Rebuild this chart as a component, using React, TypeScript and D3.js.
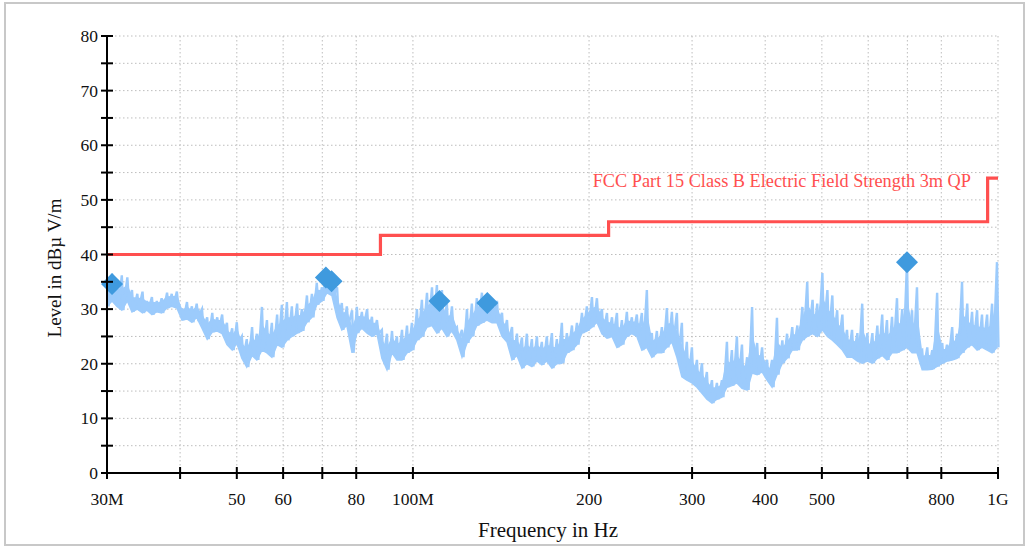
import React from "react";
import * as d3 from "d3";

// measured trace, MHz / dBµV/m (upper and lower edge of the noisy band)
const traceFreq = [
  30.0, 30.6, 31.2, 31.8, 32.5, 33.1, 33.8, 34.5, 35.1, 35.8, 36.5, 37.2, 38.0, 38.7, 39.5, 40.3, 41.1, 41.9, 42.7, 43.6,
  44.5, 45.4, 46.3, 47.2, 48.1, 49.1, 50.0, 51.0, 52.0, 53.1, 54.1, 55.2, 56.3, 57.4, 58.6, 59.7, 60.9, 62.1, 63.4, 64.6,
  65.9, 67.2, 68.5, 69.9, 71.3, 72.7, 74.2, 75.6, 77.1, 78.7, 80.2, 81.8, 83.5, 85.1, 86.8, 88.5, 90.3, 92.1, 93.9, 95.8,
  97.7, 99.6, 101.6, 103.6, 105.7, 107.8, 109.9, 112.1, 114.3, 116.6, 118.9, 121.3, 123.7, 126.1, 128.6, 131.2, 133.8, 136.5, 139.2, 142.0,
  144.8, 147.7, 150.6, 153.6, 156.6, 159.7, 162.9, 166.1, 169.4, 172.8, 176.2, 179.7, 183.3, 187.0, 190.7, 194.5, 198.3, 202.3, 206.3, 210.4,
  214.6, 218.9, 223.2, 227.6, 232.1, 236.7, 241.4, 246.2, 251.1, 256.1, 261.2, 266.4, 271.7, 277.1, 282.6, 288.2, 293.9, 299.8, 305.8, 311.9,
  318.0, 324.4, 330.8, 337.4, 344.1, 350.9, 357.9, 365.1, 372.5, 379.9, 387.6, 395.2, 403, 411, 419, 428, 436, 445, 454, 463,
  472, 482, 491, 501, 511, 521, 531, 542, 552, 563, 575, 586, 598, 610, 622, 634, 646, 659, 672, 686,
  699, 713, 727, 742, 757, 772, 787, 803, 818, 835, 851, 868, 886, 903, 921, 939, 958, 977, 996,
];
const traceHi = [
  34.5, 36.5, 35.5, 36.2, 35.8, 33.5, 32.8, 33.2, 31.5, 32.2, 31.5, 32.0, 33.0, 32.8, 33.2, 30.0, 31.3, 30.5, 31.0, 30.0,
  28.5, 29.3, 28.5, 29.0, 27.5, 26.5, 27.6, 25.0, 24.5, 26.7, 25.5, 30.4, 28.0, 27.5, 29.0, 30.8, 31.3, 30.5, 31.0, 30.0,
  32.5, 32.8, 34.8, 34.0, 36.5, 36.0, 34.0, 31.1, 30.5, 29.8, 30.4, 29.5, 30.0, 28.6, 28.0, 26.2, 25.5, 26.0, 25.0, 26.2,
  27.0, 27.5, 30.0, 31.7, 33.0, 34.0, 34.4, 33.5, 31.0, 30.5, 26.7, 26.2, 30.0, 31.0, 32.0, 33.0, 32.5, 32.0, 31.5, 29.3,
  28.0, 26.7, 25.5, 24.8, 25.5, 24.5, 25.0, 24.0, 25.0, 25.6, 24.5, 27.5, 25.6, 27.0, 27.5, 29.3, 30.5, 32.2, 32.0, 30.0,
  29.3, 28.5, 29.3, 28.0, 29.5, 28.5, 29.0, 29.3, 33.5, 25.6, 26.0, 26.7, 30.2, 29.5, 29.3, 27.5, 24.0, 23.0, 20.7, 20.1,
  18.5, 17.0, 16.5, 17.0, 24.0, 22.5, 25.0, 23.5, 21.2, 30.4, 23.8, 23.0, 20.7, 20.7, 28.4, 24.3, 25.5, 26.7, 27.0, 30.4,
  35.0, 31.7, 31.0, 36.6, 33.5, 32.5, 29.8, 29.0, 26.2, 26.2, 25.6, 31.0, 25.6, 25.6, 27.0, 29.0, 28.0, 28.6, 32.0, 30.0,
  38.6, 29.8, 34.0, 22.5, 23.0, 22.5, 33.0, 23.8, 23.5, 26.7, 25.5, 35.0, 31.0, 29.5, 29.8, 29.0, 29.0, 31.0, 38.6,
];
const traceLo = [
  30.5, 31.5, 30.5, 29.8, 31.5, 29.5, 30.0, 29.3, 29.8, 29.0, 29.5, 29.3, 30.2, 30.5, 30.2, 28.0, 28.2, 27.6, 28.5, 26.5,
  24.5, 25.8, 26.0, 25.5, 23.5, 22.5, 23.8, 21.0, 19.4, 21.5, 20.7, 22.5, 22.0, 21.2, 23.5, 23.0, 24.3, 25.0, 25.6, 26.0,
  27.6, 28.5, 30.8, 31.5, 33.0, 32.5, 28.4, 26.2, 27.0, 22.0, 25.6, 26.5, 25.6, 25.0, 25.5, 21.0, 18.9, 22.0, 20.7, 20.7,
  22.0, 22.5, 24.3, 25.0, 26.7, 27.0, 25.6, 26.5, 25.0, 26.0, 24.3, 21.2, 23.8, 25.0, 27.0, 27.5, 28.0, 27.5, 27.5, 25.0,
  24.0, 20.7, 21.5, 19.2, 20.0, 19.5, 20.5, 19.8, 20.5, 19.2, 20.0, 20.1, 22.0, 22.5, 23.5, 25.6, 26.0, 26.7, 27.6, 25.5,
  24.7, 25.0, 23.0, 23.5, 25.0, 25.5, 25.0, 22.5, 23.0, 21.2, 22.0, 22.0, 23.0, 24.0, 21.2, 17.6, 17.0, 16.5, 15.7, 14.6,
  13.5, 12.8, 13.5, 13.9, 15.7, 16.0, 16.5, 15.5, 15.2, 18.3, 18.0, 18.5, 17.0, 15.7, 18.0, 20.1, 21.0, 22.5, 22.5, 24.3,
  25.0, 25.5, 25.0, 26.2, 25.0, 24.3, 23.5, 22.5, 21.2, 21.2, 20.5, 20.1, 20.5, 20.1, 21.0, 21.5, 20.7, 22.0, 22.0, 22.5,
  23.0, 22.0, 22.0, 18.9, 18.9, 19.0, 19.5, 20.1, 20.5, 20.7, 21.0, 22.0, 23.0, 23.5, 22.5, 23.0, 22.5, 22.0, 23.0,
];

// limit line steps
const limitFreq = [30, 88, 216, 960, 1000];
const limitLevel = [40, 43.5, 46, 54, 54];
const limitName = "FCC Part 15 Class B Electric Field Strength 3m QP";

// final measurement points
const markerFreq = [30.6, 71.0, 72.6, 111.0, 134.0, 699.0];
const markerLevel = [34.6, 35.8, 35.1, 31.5, 31.1, 38.6];

const xTicks = [30, 40, 50, 60, 70, 80, 100, 200, 300, 400, 500, 600, 700, 800, 1000];
const xTickLabels: Record<number, string> = {
  30: "30M", 50: "50", 60: "60", 80: "80", 100: "100M",
  200: "200", 300: "300", 400: "400", 500: "500", 800: "800", 1000: "1G",
};
const yMajor = [0, 10, 20, 30, 40, 50, 60, 70, 80];
const yMinor = [5, 15, 25, 35, 45, 55, 65, 75];

export default function App() {
  const W = 1030, H = 548;
  const left = 107, right = 998, top = 36, bottom = 473;
  const font = "'Liberation Serif', 'Times New Roman', serif";

  const x = d3.scaleLog().domain([30, 1000]).range([left, right]);
  const y = d3.scaleLinear().domain([0, 80]).range([bottom, top]);

  // zigzag through the band
  const zig: [number, number][] = [];
  traceFreq.forEach((f, i) => {
    zig.push([x(f), y(traceHi[i])]);
    zig.push([x(f) + 1.5, y(traceLo[i])]);
  });
  const zigPath = d3.line()(zig) || "";

  const band = d3
    .area<number>()
    .x((_, i) => x(traceFreq[i]))
    .y0((_, i) => y(traceLo[i]))
    .y1((_, i) => y((traceHi[i] + traceLo[i]) / 2 + 0.6))(traceFreq.map((_, i) => i)) || "";

  const limitPath =
    d3
      .line<number>()
      .x((_, i) => x(limitFreq[i]))
      .y((_, i) => y(limitLevel[i]))
      .curve(d3.curveStepAfter)(limitFreq.map((_, i) => i)) || "";

  const gridYs = [...yMajor, ...yMinor];

  return (
    <div style={{ position: "fixed", left: 0, top: 0 }}>
      <svg width={W} height={H} style={{ display: "block", fontFamily: font }}>
        <rect x={5} y={3} width={1019} height={542} fill="white" stroke="#c8c8c8" strokeWidth={2} />

        {/* grid */}
        <g stroke="#bdbdbd" strokeWidth={1} strokeDasharray="1.5,2.5">
          {gridYs.map(v => (
            <line key={`gy${v}`} x1={left} x2={right} y1={y(v)} y2={y(v)} />
          ))}
          {xTicks.slice(1).map(f => (
            <line key={`gx${f}`} x1={x(f)} x2={x(f)} y1={top} y2={bottom} />
          ))}
        </g>

        {/* trace */}
        <path d={band} fill="#9ccbfc" stroke="#9ccbfc" strokeWidth={1.5} />
        <path d={zigPath} fill="none" stroke="#9ccbfc" strokeWidth={2.4} strokeLinejoin="miter" />

        {/* limit */}
        <path d={limitPath} fill="none" stroke="#ff4f4f" strokeWidth={3.2} />
        <text x={971} y={187} textAnchor="end" fontSize={18.3} fill="#ff4f4f">
          {limitName}
        </text>

        {/* markers */}
        {markerFreq.map((f, i) => {
          const cx = x(f), cy = y(markerLevel[i]), r = 11;
          return (
            <path
              key={`m${i}`}
              d={`M${cx},${cy - r}L${cx + r},${cy}L${cx},${cy + r}L${cx - r},${cy}Z`}
              fill="#3f9ade"
            />
          );
        })}

        {/* axes */}
        <g stroke="black" strokeWidth={2}>
          <line x1={left} x2={left} y1={top} y2={bottom + 1} />
          <line x1={left - 1} x2={right} y1={bottom} y2={bottom} />
          {gridYs.map(v => (
            <line key={`ty${v}`} x1={left - 6} x2={left + 6} y1={y(v)} y2={y(v)} />
          ))}
          {xTicks.map(f => (
            <line key={`tx${f}`} x1={x(f)} x2={x(f)} y1={bottom - 6} y2={bottom + 6} />
          ))}
        </g>

        <g fontSize={17.5} fill="#111">
          {yMajor.map(v => (
            <text key={`ly${v}`} x={left - 9} y={y(v)} textAnchor="end" dominantBaseline="central">
              {v}
            </text>
          ))}
          {xTicks
            .filter(f => xTickLabels[f])
            .map(f => (
              <text key={`lx${f}`} x={x(f)} y={505} textAnchor="middle">
                {xTickLabels[f]}
              </text>
            ))}
          <text x={548} y={537} textAnchor="middle" fontSize={21}>
            Frequency in Hz
          </text>
          <text
            transform={`translate(61, 268) rotate(-90)`}
            textAnchor="middle"
            fontSize={19}
          >
            Level in dBµ V/m
          </text>
        </g>
      </svg>
    </div>
  );
}
